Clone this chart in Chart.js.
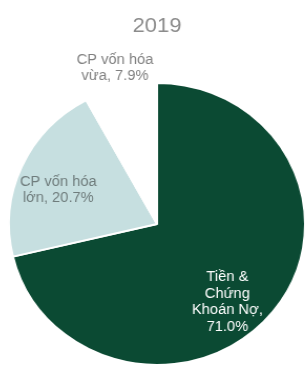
<!DOCTYPE html>
<html>
<head>
<meta charset="utf-8">
<script src="https://cdn.jsdelivr.net/npm/chart.js@4/dist/chart.umd.min.js"></script>
<style>
  html, body { margin: 0; padding: 0; background: #fff; overflow: hidden; }
  #wrap { position: relative; width: 307px; height: 366px; transform: scaleX(1.05); transform-origin: 157px 0; }
</style>
</head>
<body>
<div id="wrap"><canvas id="pie2019"></canvas></div>
<script>
// Du lieu (2019)
var tieuDe = '2019';
var nhan = ['Tiền & Chứng Khoán Nợ', 'CP vốn hóa lớn', 'CP vốn hóa vừa'];
var giaTri = [71.0, 20.7, 7.9];
var nhanHienThi = [
  ['Tiền &', 'Chứng', 'Khoán Nợ,', '71.0%'],
  ['CP vốn hóa', 'lớn, 20.7%'],
  ['CP vốn hóa', 'vừa, 7.9%']
];
var mau = ['#0b4a33', '#c6dfe0', '#ffffff'];

// ve tieu de va nhan cua tung lat
var nhanPlugin = {
  id: 'nhanPlugin',
  afterDraw: function(chart) {
    var ctx = chart.ctx;
    var arc = chart.getDatasetMeta(0).data[0];
    var cx = arc.x, cy = arc.y;
    // lech so voi tam hinh tron
    var lech = [[67, 78], [-94, -34], [-40, -156]];
    var mauChu = ['#ffffff', '#6f7c7c', '#808080'];
    ctx.save();
    ctx.textAlign = 'center';
    ctx.textBaseline = 'middle';

    ctx.font = '21px "Liberation Sans", Arial, sans-serif';
    ctx.fillStyle = '#8c8c8c';
    ctx.fillText(tieuDe, 157, 26);

    ctx.font = '14px "Liberation Sans", Arial, sans-serif';
    for (var i = 0; i < nhanHienThi.length; i++) {
      var dong = nhanHienThi[i];
      var lh = 16.5;
      var y0 = cy + lech[i][1] - (dong.length - 1) * lh / 2;
      ctx.fillStyle = mauChu[i];
      for (var j = 0; j < dong.length; j++) {
        ctx.fillText(dong[j], cx + lech[i][0], y0 + j * lh);
      }
    }
    ctx.restore();
  }
};

var ctx = document.getElementById('pie2019');
var grafico = new Chart(ctx, {
  type: 'pie',
  data: {
    labels: nhan,
    datasets: [{
      data: giaTri,
      backgroundColor: mau,
      borderColor: '#ffffff',
      borderWidth: 2
    }]
  },
  options: {
    responsive: true,
    maintainAspectRatio: false,
    animation: false,
    layout: { padding: { left: 15, right: 8, top: 82, bottom: 0 } },
    plugins: {
      legend: { display: false },
      tooltip: { enabled: false }
    }
  },
  plugins: [nhanPlugin]
});
</script>
</body>
</html>
